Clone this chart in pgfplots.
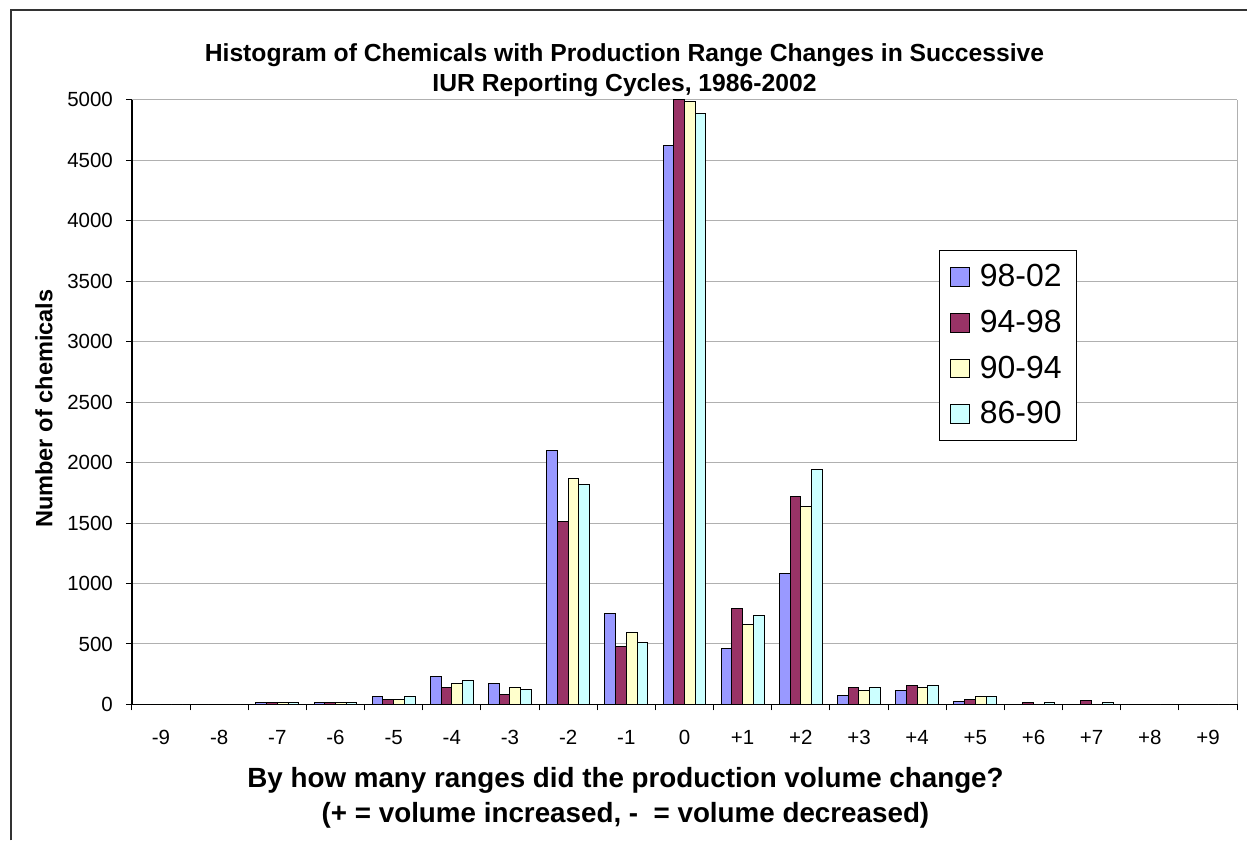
\documentclass[border=0pt]{standalone}
\usepackage{fontspec}
\setmainfont{Liberation Sans}
\usepackage{pgfplots}
\pgfplotsset{compat=1.18}
\definecolor{cA}{HTML}{9999FF}
\definecolor{cB}{HTML}{993366}
\definecolor{cC}{HTML}{FFFFCC}
\definecolor{cD}{HTML}{CCFFFF}
\definecolor{gridgray}{HTML}{B0B0B0}
\begin{document}
\begin{tikzpicture}[x=0.5bp,y=0.5bp]
\path (0,0) rectangle (1248,841);
\draw[line width=1bp, color=black!80] (11,0) -- (11,831) -- (1248,831);
\draw[gridgray, line width=0.5bp] (1238,136) -- (1238,741);
\begin{axis}[
  at={(66bp,68bp)}, anchor=south west,
  width=553bp, height=302.5bp, scale only axis,
  xmin=-9.5, xmax=9.5, ymin=0, ymax=5000,
  axis x line*=bottom, axis y line*=left,
  axis line style={line width=0.6bp, black},
  tick align=outside,
  major tick length=3bp, minor tick length=3bp,
  tick style={black, line width=0.5bp},
  ytick={0,500,1000,1500,2000,2500,3000,3500,4000,4500,5000},
  xtick={-9,-8,-7,-6,-5,-4,-3,-2,-1,0,1,2,3,4,5,6,7,8,9},
  xticklabels={-9,-8,-7,-6,-5,-4,-3,-2,-1,0,+1,+2,+3,+4,+5,+6,+7,+8,+9},
  major x tick style={draw=none},
  minor xtick={-9.5,-8.5,-7.5,-6.5,-5.5,-4.5,-3.5,-2.5,-1.5,-0.5,0.5,1.5,2.5,3.5,4.5,5.5,6.5,7.5,8.5,9.5},
  ymajorgrids, grid style={gridgray, line width=0.5bp},
  scaled y ticks=false,
  /pgf/number format/assume math mode=true,
  /pgf/number format/set thousands separator={},
  ticklabel style={font=\fontsize{10.25bp}{12bp}\selectfont},
  yticklabel style={anchor=east, xshift=-3bp},
  xticklabel style={yshift=-6.5bp},
  ybar=0pt, bar width=5.35bp,
  every axis plot post/.append style={line width=0.5bp, draw=black,
    legend image code/.code={\draw[##1, line width=0.5bp] (0bp,-4.75bp) rectangle (9.5bp,4.75bp); \path[draw=none, fill=none] (9.5bp,0bp) rectangle (12.5bp,0.1bp);}},
  legend style={at={(0.7306,0.752)}, anchor=north west, draw=black, line width=0.5bp,
    font=\fontsize{16bp}{19bp}\selectfont, legend cell align=left,
    inner xsep=5.3bp, inner ysep=5bp, row sep=6.25bp},
]
\addplot[fill=cA] coordinates {(-9,0) (-8,0) (-7,15) (-6,12) (-5,63) (-4,228) (-3,171) (-2,2100) (-1,748) (0,4620) (1,465) (2,1083) (3,74) (4,115) (5,22) (6,2) (7,2) (8,0) (9,0)};
\addplot[fill=cB] coordinates {(-9,0) (-8,0) (-7,15) (-6,12) (-5,44) (-4,143) (-3,85) (-2,1510) (-1,481) (0,5000) (1,790) (2,1716) (3,143) (4,160) (5,44) (6,12) (7,33) (8,0) (9,0)};
\addplot[fill=cC] coordinates {(-9,0) (-8,0) (-7,15) (-6,12) (-5,41) (-4,171) (-3,143) (-2,1870) (-1,594) (0,4990) (1,663) (2,1634) (3,113) (4,143) (5,63) (6,2) (7,2) (8,0) (9,0)};
\addplot[fill=cD] coordinates {(-9,0) (-8,0) (-7,15) (-6,12) (-5,63) (-4,200) (-3,126) (-2,1818) (-1,509) (0,4890) (1,734) (2,1941) (3,143) (4,160) (5,63) (6,12) (7,12) (8,0) (9,0)};
\legend{98-02,94-98,90-94,86-90}
\end{axis}
\node[align=center, font=\bfseries\fontsize{12.35bp}{15bp}\selectfont] at (625,771) {Histogram of Chemicals with Production Range Changes in Successive\\IUR Reporting Cycles, 1986-2002};
\node[align=center, font=\bfseries\fontsize{13.9bp}{17.5bp}\selectfont] at (626,43) {By how many ranges did the production volume change?\\(+ = volume increased, - \ = volume decreased)};
\node[rotate=90, font=\bfseries\fontsize{11.8bp}{14bp}\selectfont] at (44,432) {Number of chemicals};
\end{tikzpicture}
\end{document}
